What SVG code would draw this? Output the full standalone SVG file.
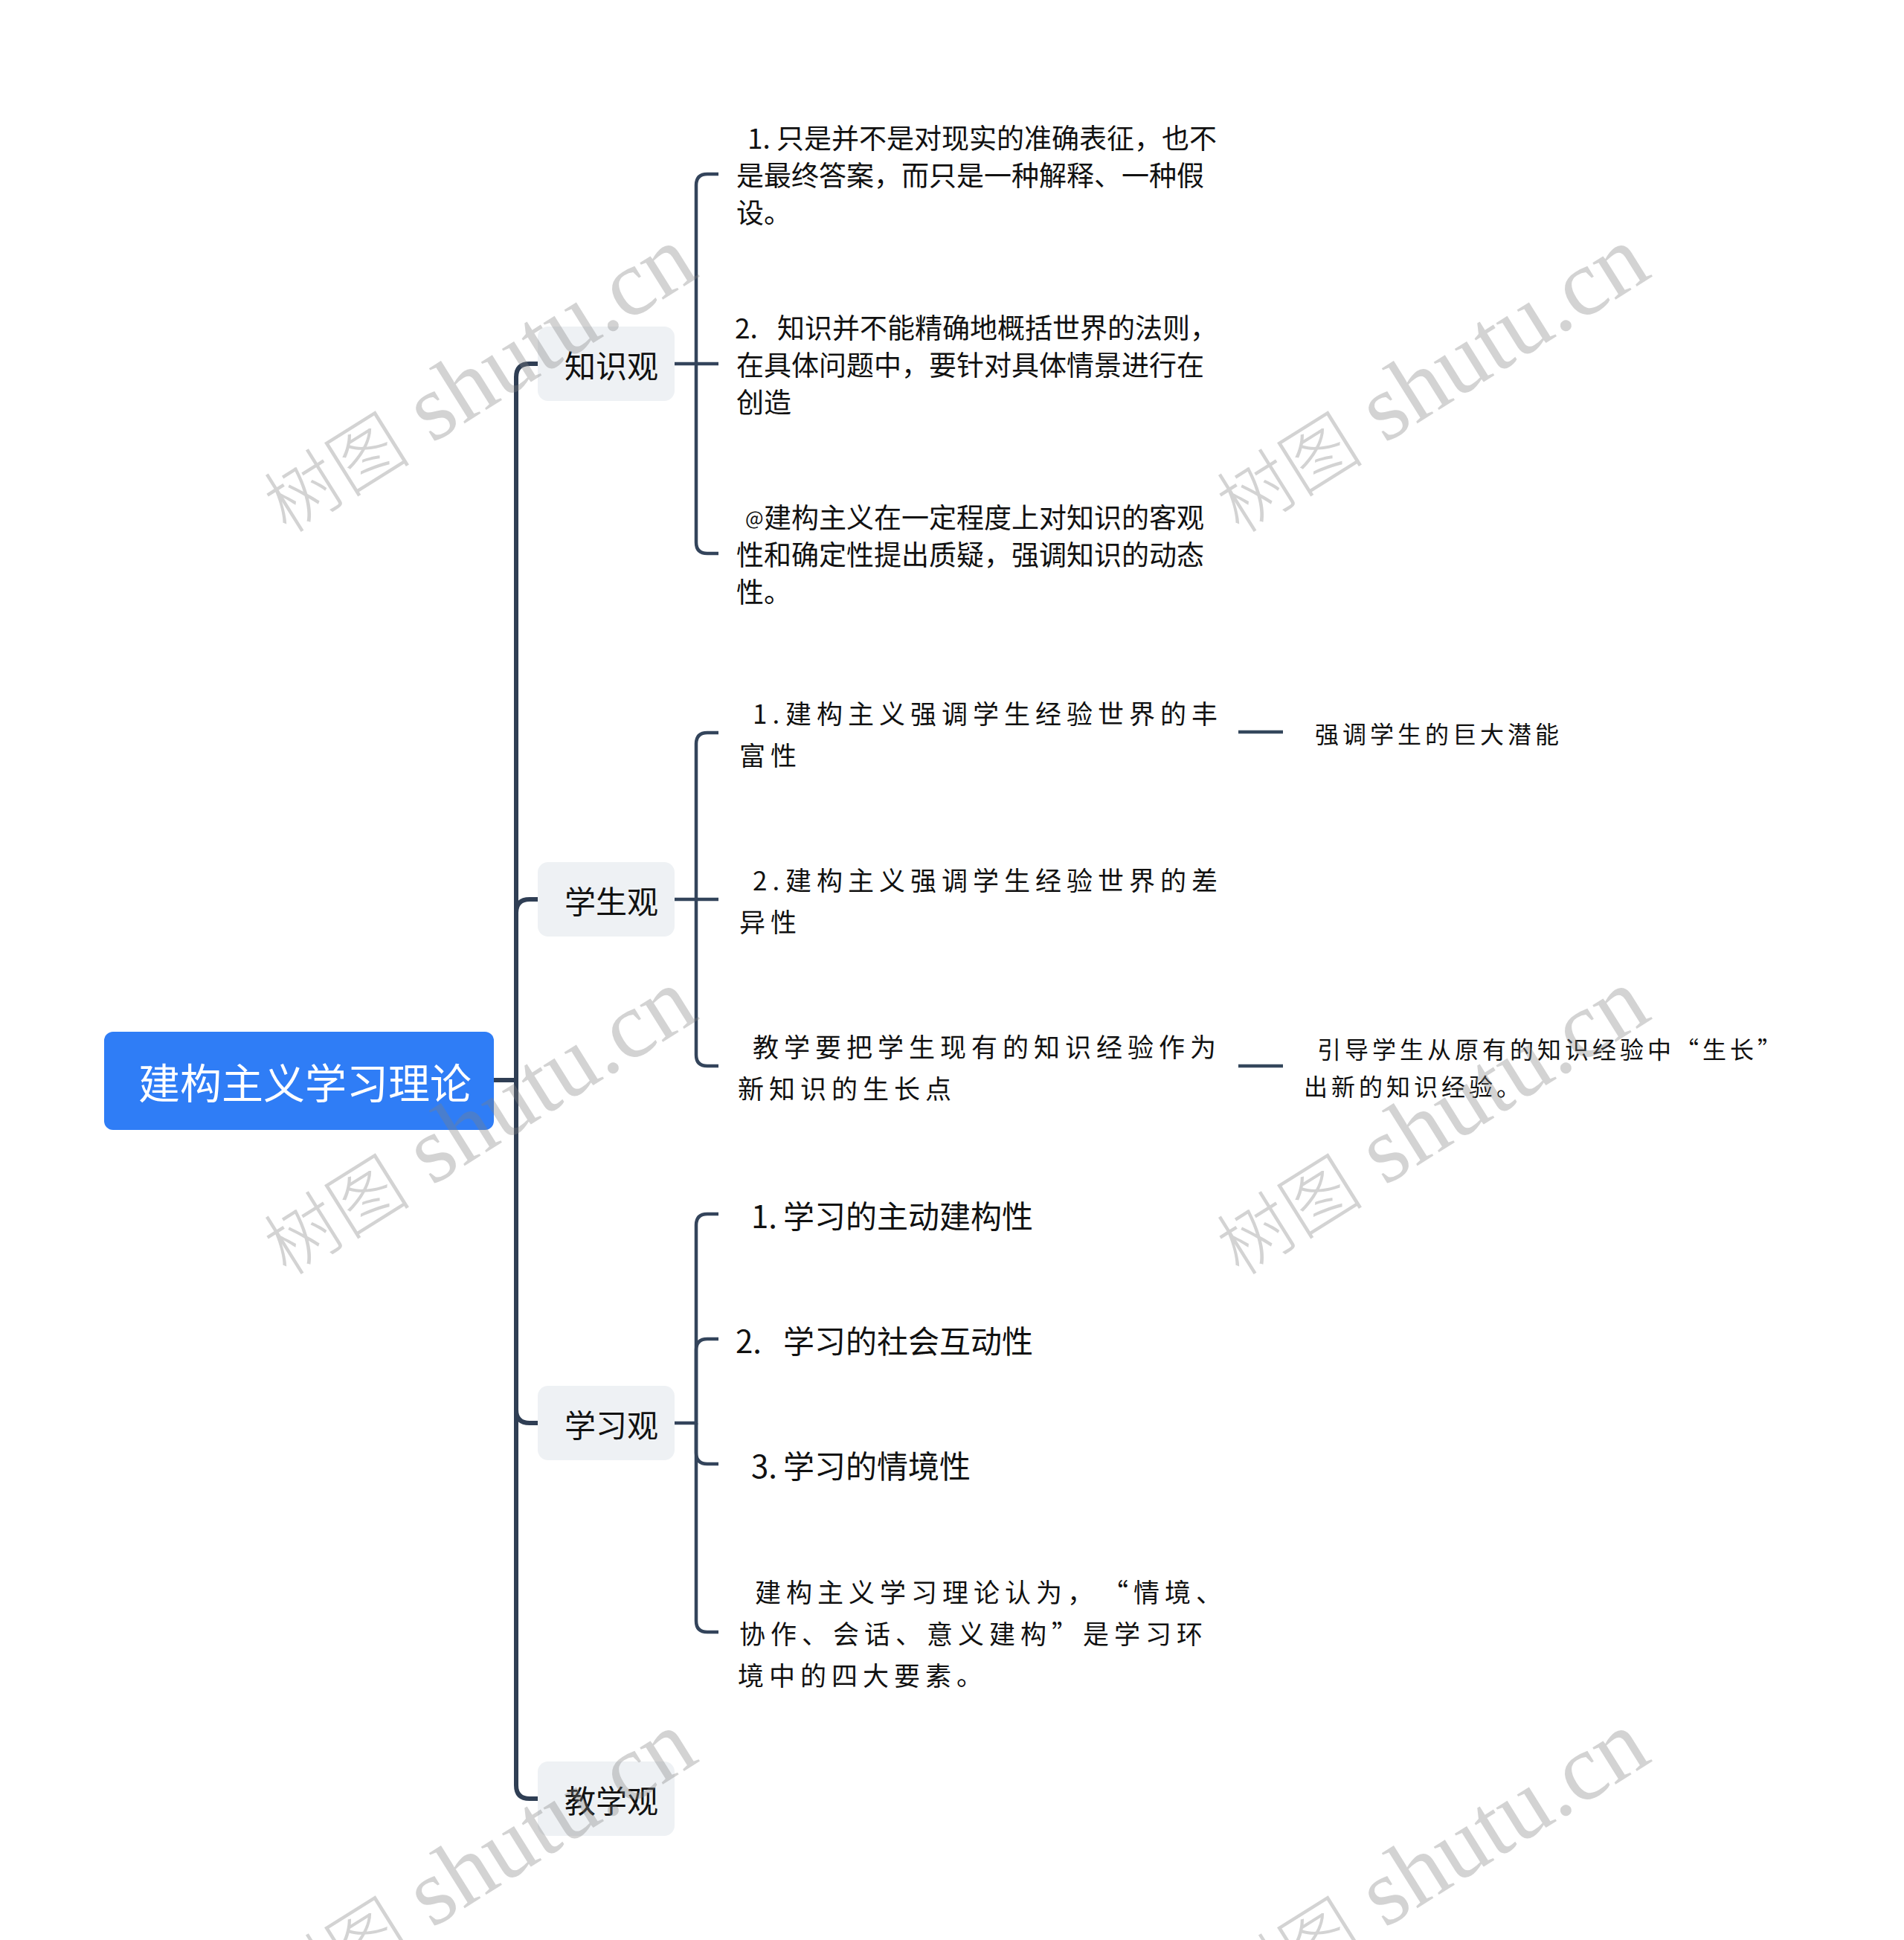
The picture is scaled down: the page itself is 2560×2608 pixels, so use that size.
<svg xmlns="http://www.w3.org/2000/svg" width="2560" height="2608" viewBox="0 0 2560 2608">
<style>
  text { font-family: "Noto Sans CJK SC", "Noto Sans", sans-serif; fill: #111; dominant-baseline: central; }
  .root-t { font-size: 56px; fill: #fff; text-anchor: middle; }
  .l1-t { font-size: 42px; text-anchor: middle; }
  .s37 { font-size: 37px; }
  .s42 { font-size: 42px; }
  .k { font-size: 35px; letter-spacing: 7px; }
  .k3 { font-size: 32px; letter-spacing: 5px; }
  .trunk { fill: none; stroke: #2f3e54; stroke-width: 6; stroke-linecap: butt; }
  .br { fill: none; stroke: #33445b; stroke-width: 4.5; }
  .l3 { fill: none; stroke: #34475c; stroke-width: 4.5; }
  .l1-box { fill: #eef1f4; }
  .wm { fill: #808080; opacity: 0.34; dominant-baseline: alphabetic; text-anchor: middle; }
  .wm-cjk { font-family: "Noto Sans CJK SC", sans-serif; font-size: 99px; font-weight: 300; }
  .wm-lat { font-family: "Liberation Serif", serif; font-size: 127px; }
</style>
<rect width="2560" height="2608" fill="#ffffff"/>

<g id="connectors">
  <path class="trunk" d="M664,1452 H694 V507 Q694,489 712,489 H724"/>
  <path class="trunk" d="M694,1452 V1227 Q694,1209 712,1209 H724"/>
  <path class="trunk" d="M694,1452 V1895 Q694,1913 712,1913 H724"/>
  <path class="trunk" d="M694,1452 V2400 Q694,2418 712,2418 H724"/>

  <path class="br" d="M907,489 H936 V249 Q936,234 951,234 H966"/>
  <path class="br" d="M936,489 H966"/>
  <path class="br" d="M936,489 V729 Q936,744 951,744 H966"/>

  <path class="br" d="M907,1209 H936 V1000 Q936,985 951,985 H966"/>
  <path class="br" d="M936,1209 H966"/>
  <path class="br" d="M936,1209 V1418 Q936,1433 951,1433 H966"/>

  <path class="br" d="M907,1913 H936 V1647 Q936,1632 951,1632 H966"/>
  <path class="br" d="M936,1913 V1815 Q936,1800 951,1800 H966"/>
  <path class="br" d="M936,1913 V1953 Q936,1968 951,1968 H966"/>
  <path class="br" d="M936,1913 V2179 Q936,2194 951,2194 H966"/>

  <path class="l3" d="M1665,984 H1725"/>
  <path class="l3" d="M1665,1433 H1725"/>
</g>

<g id="root">
  <rect x="140" y="1387" width="524" height="132" rx="12" fill="#2f7df6"/>
  <text class="root-t" x="410" y="1452">建构主义学习理论</text>
</g>

<g id="n-zhishiguan">
  <rect class="l1-box" x="723" y="439" width="184" height="100" rx="14"/>
  <text class="l1-t" x="822" y="489">知识观</text>
</g>
<g id="n-xueshengguan">
  <rect class="l1-box" x="723" y="1159" width="184" height="100" rx="14"/>
  <text class="l1-t" x="822" y="1209">学生观</text>
</g>
<g id="n-xuexiguan">
  <rect class="l1-box" x="723" y="1863" width="184" height="100" rx="14"/>
  <text class="l1-t" x="822" y="1913">学习观</text>
</g>
<g id="n-jiaoxueguan">
  <rect class="l1-box" x="723" y="2368" width="184" height="100" rx="14"/>
  <text class="l1-t" x="822" y="2418">教学观</text>
</g>

<g id="n-zs1">
  <text class="s37"><tspan x="1005" y="184">1. 只是并不是对现实的准确表征，也不</tspan><tspan x="990" y="234">是最终答案，而只是一种解释、一种假</tspan><tspan x="990" y="284">设。</tspan></text>
</g>
<g id="n-zs2">
  <text class="s37"><tspan x="988" y="439">2.</tspan><tspan x="1045" y="439">知识并不能精确地概括世界的法则，</tspan><tspan x="990" y="489">在具体问题中，要针对具体情景进行在</tspan><tspan x="990" y="539">创造</tspan></text>
</g>
<g id="n-zs3">
  <text class="s37"><tspan x="1002" y="694" style="font-size:26px">@</tspan><tspan x="1027" y="694">建构主义在一定程度上对知识的客观</tspan><tspan x="990" y="744">性和确定性提出质疑，强调知识的动态</tspan><tspan x="990" y="794">性。</tspan></text>
</g>

<g id="n-xs1">
  <text class="k"><tspan x="1012" y="957">1.</tspan><tspan x="1056" y="957">建构主义强调学生经验世界的丰</tspan><tspan x="994" y="1013">富性</tspan></text>
</g>
<g id="n-xs2">
  <text class="k"><tspan x="1012" y="1181">2.</tspan><tspan x="1056" y="1181">建构主义强调学生经验世界的差</tspan><tspan x="994" y="1237">异性</tspan></text>
</g>
<g id="n-xs3">
  <text class="k"><tspan x="1012" y="1405">教学要把学生现有的知识经验作为</tspan><tspan x="992" y="1461">新知识的生长点</tspan></text>
</g>
<g id="n-xs1a">
  <text class="k3"><tspan x="1768" y="985">强调学生的巨大潜能</tspan></text>
</g>
<g id="n-xs3a">
  <text class="k3"><tspan x="1771" y="1409">引导学生从原有的知识经验中“生长”</tspan><tspan x="1753" y="1459">出新的知识经验。</tspan></text>
</g>

<g id="n-xx1">
  <text class="s42"><tspan x="1010" y="1632">1.</tspan><tspan x="1053" y="1632">学习的主动建构性</tspan></text>
</g>
<g id="n-xx2">
  <text class="s42"><tspan x="989" y="1800">2.</tspan><tspan x="1053" y="1800">学习的社会互动性</tspan></text>
</g>
<g id="n-xx3">
  <text class="s42"><tspan x="1010" y="1968">3.</tspan><tspan x="1053" y="1968">学习的情境性</tspan></text>
</g>
<g id="n-xx4">
  <text class="k"><tspan x="1015" y="2138">建构主义学习理论认为，</tspan><tspan x="1482" y="2138">“情境、</tspan><tspan x="994" y="2194">协作、会话、意义建构”是学习环</tspan><tspan x="992" y="2250">境中的四大要素。</tspan></text>
</g>

<g id="watermarks">
  <text class="wm" transform="translate(645,514) rotate(-32)" x="0" y="36"><tspan class="wm-cjk">树图</tspan><tspan class="wm-lat"> shutu.cn</tspan></text>
  <text class="wm" transform="translate(1926,514) rotate(-32)" x="0" y="36"><tspan class="wm-cjk">树图</tspan><tspan class="wm-lat"> shutu.cn</tspan></text>
  <text class="wm" transform="translate(645,1512) rotate(-32)" x="0" y="36"><tspan class="wm-cjk">树图</tspan><tspan class="wm-lat"> shutu.cn</tspan></text>
  <text class="wm" transform="translate(1926,1512) rotate(-32)" x="0" y="36"><tspan class="wm-cjk">树图</tspan><tspan class="wm-lat"> shutu.cn</tspan></text>
  <text class="wm" transform="translate(645,2510) rotate(-32)" x="0" y="36"><tspan class="wm-cjk">树图</tspan><tspan class="wm-lat"> shutu.cn</tspan></text>
  <text class="wm" transform="translate(1926,2510) rotate(-32)" x="0" y="36"><tspan class="wm-cjk">树图</tspan><tspan class="wm-lat"> shutu.cn</tspan></text>
</g>
</svg>
